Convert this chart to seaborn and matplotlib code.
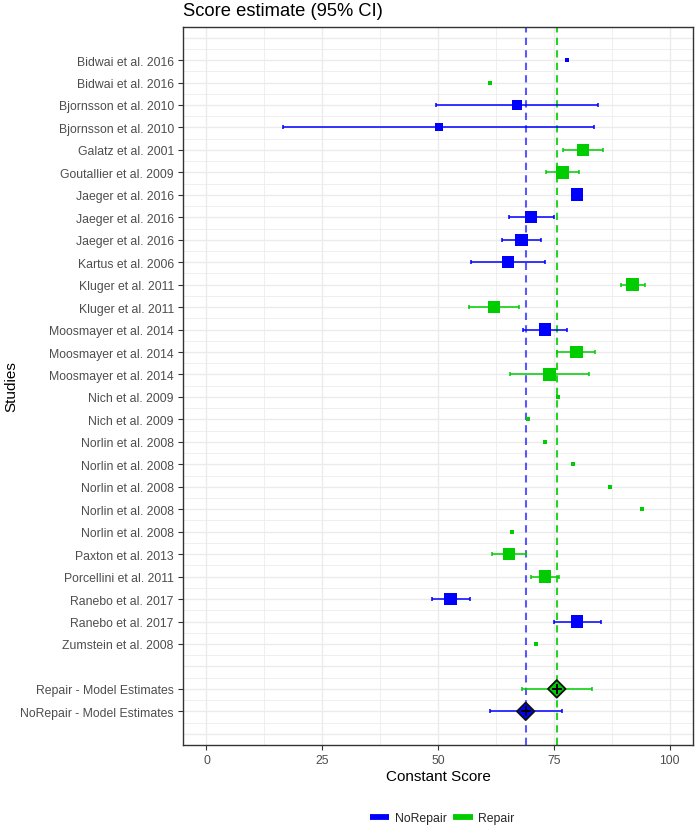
import numpy as np
import pandas as pd
import matplotlib
matplotlib.use("Agg")
import matplotlib.pyplot as plt
from matplotlib.lines import Line2D
import seaborn as sns

# study-level estimates (Constant score, 95% CI)
studies = ["Bidwai et al. 2016", "Bidwai et al. 2016", "Bjornsson et al. 2010",
           "Bjornsson et al. 2010", "Galatz et al. 2001", "Goutallier et al. 2009",
           "Jaeger et al. 2016", "Jaeger et al. 2016", "Jaeger et al. 2016",
           "Kartus et al. 2006", "Kluger et al. 2011", "Kluger et al. 2011",
           "Moosmayer et al. 2014", "Moosmayer et al. 2014", "Moosmayer et al. 2014",
           "Nich et al. 2009", "Nich et al. 2009", "Norlin et al. 2008",
           "Norlin et al. 2008", "Norlin et al. 2008", "Norlin et al. 2008",
           "Norlin et al. 2008", "Paxton et al. 2013", "Porcellini et al. 2011",
           "Ranebo et al. 2017", "Ranebo et al. 2017", "Zumstein et al. 2008"]
arm = ["NoRepair", "Repair", "NoRepair", "NoRepair", "Repair", "Repair",
       "NoRepair", "NoRepair", "NoRepair", "NoRepair", "Repair", "Repair",
       "NoRepair", "Repair", "Repair", "Repair", "Repair", "Repair",
       "Repair", "Repair", "Repair", "Repair", "Repair", "Repair",
       "NoRepair", "NoRepair", "Repair"]
score = [77.9, 61.1, 67.0, 50.1, 81.2, 76.8, 80.0, 70.0, 68.0, 65.0, 92.0, 62.0,
         73.1, 79.8, 74.0, 75.8, 69.3, 73.1, 79.1, 87.1, 94.0, 66.0, 65.4, 73.1,
         52.7, 80.0, 71.1]
ci_low = [np.nan, np.nan, 49.5, 16.5, 77.0, 73.3, np.nan, 65.2, 63.7, 57.0, 89.4, 56.6,
          68.4, 75.7, 65.5, np.nan, np.nan, np.nan, np.nan, np.nan, np.nan, np.nan,
          61.7, 70.0, 48.6, 75.0, np.nan]
ci_high = [np.nan, np.nan, 84.6, 83.7, 85.5, 80.5, np.nan, 74.9, 72.3, 73.1, 94.6, 67.5,
           77.8, 83.9, 82.6, np.nan, np.nan, np.nan, np.nan, np.nan, np.nan, np.nan,
           68.9, 76.0, 56.8, 85.1, np.nan]
weight = [1, 1, 7, 4, 9.5, 10, 10, 9.5, 9.5, 9, 10, 9.5, 9.5, 10, 9.5,
          1, 1, 1, 1, 1, 1, 1, 9, 10, 9.5, 10, 1]

# pooled model estimates
model_labels = ["Repair - Model Estimates", "NoRepair - Model Estimates"]
model_arm = ["Repair", "NoRepair"]
model_score = [75.6, 68.9]
model_low = [68.2, 61.2]
model_high = [83.1, 76.7]

colors = {"NoRepair": "#0000FF", "Repair": "#00CD00"}

df = pd.DataFrame({"study": studies, "arm": arm, "score": score,
                   "lo": ci_low, "hi": ci_high, "weight": weight})
df["row"] = np.arange(len(df))
mdf = pd.DataFrame({"study": model_labels, "arm": model_arm, "score": model_score,
                    "lo": model_low, "hi": model_high})
mdf["row"] = len(df) + 1 + np.arange(len(mdf))

sns.set_theme(style="white")
plt.rcParams["font.family"] = ["Liberation Sans", "DejaVu Sans"]

fig = plt.figure(figsize=(6.95, 8.28), dpi=100)
ax = fig.add_axes([0.2637, 0.099, 0.7334, 0.8671])

n_rows = int(mdf["row"].max())
ax.set_xlim(-5, 105)
ax.set_ylim(n_rows + 1.5, -1.47)

# grid like theme_bw
for v in np.arange(0, 101, 25):
    ax.axvline(v, color="#EBEBEB", lw=1.0, zorder=0)
for v in np.arange(12.5, 100, 25):
    ax.axvline(v, color="#EBEBEB", lw=0.55, zorder=0)
for r in np.arange(-1, n_rows + 2):
    ax.axhline(r, color="#EBEBEB", lw=1.0, zorder=0)
for r in np.arange(-1.5, n_rows + 1.5, 1.0):
    ax.axhline(r, color="#EBEBEB", lw=0.55, zorder=0)

# reference lines at pooled estimates
ax.axvline(mdf.loc[mdf.arm == "NoRepair", "score"].iloc[0], color=colors["NoRepair"],
           alpha=0.65, lw=1.5, ls=(0, (3.5, 2.5)), zorder=2)
ax.axvline(mdf.loc[mdf.arm == "Repair", "score"].iloc[0], color=colors["Repair"],
           alpha=0.85, lw=1.5, ls=(0, (3.5, 2.5)), zorder=2)

# confidence intervals
for d in (df, mdf):
    for g, sub in d.dropna(subset=["lo"]).groupby("arm"):
        ax.errorbar(sub["score"], sub["row"],
                    xerr=[sub["score"] - sub["lo"], sub["hi"] - sub["score"]],
                    fmt="none", ecolor=colors[g], elinewidth=1.1, capsize=1.6,
                    capthick=1.1, zorder=3)

# study boxes
sns.scatterplot(data=df, x="score", y="row", hue="arm", size="weight",
                sizes=(8.3, 83), size_norm=(1, 10), marker="s", palette=colors,
                linewidth=0, legend=False, ax=ax, zorder=4)

# pooled diamonds
sns.scatterplot(data=mdf, x="score", y="row", hue="arm", marker="D", s=80,
                palette=colors, edgecolor="#111111", linewidth=1.3, legend=False,
                ax=ax, zorder=5)
ax.scatter(mdf["score"], mdf["row"], marker="+", s=45, color="black", lw=1.4, zorder=6)

ax.set_yticks(list(df["row"]) + list(mdf["row"]))
ax.set_yticklabels(list(df["study"]) + list(mdf["study"]))
ax.set_xticks([0, 25, 50, 75, 100])
ax.tick_params(axis="both", which="major", length=3.8, width=0.8, color="#333333",
               labelsize=8.8, labelcolor="#4D4D4D", direction="out", pad=3,
               left=True, bottom=True)
for s in ax.spines.values():
    s.set_color("#333333")
    s.set_linewidth(1.0)

ax.set_xlabel("Constant Score", fontsize=11, color="black")
ax.set_ylabel("Studies", fontsize=11, color="black")
ax.xaxis.set_label_coords(0.5, -0.043)
ax.xaxis.label.set_va("center")
ax.yaxis.set_label_coords(-0.338, 0.5)
ax.yaxis.label.set_va("center")

fig.text(0.2637, 1 - 12 / 828, "Score estimate (95% CI)", fontsize=13.2,
         ha="left", va="center", color="black")

handles = [Line2D([0], [0], color=colors[k], lw=4.2, solid_capstyle="butt")
           for k in ["NoRepair", "Repair"]]
fig.legend(handles, ["NoRepair", "Repair"], loc="center", bbox_to_anchor=(0.636, 0.011),
           ncol=2, frameon=False, fontsize=8.8, handlelength=1.6, handletextpad=0.45,
           columnspacing=0.55)

fig.savefig("out.png", dpi=100)
